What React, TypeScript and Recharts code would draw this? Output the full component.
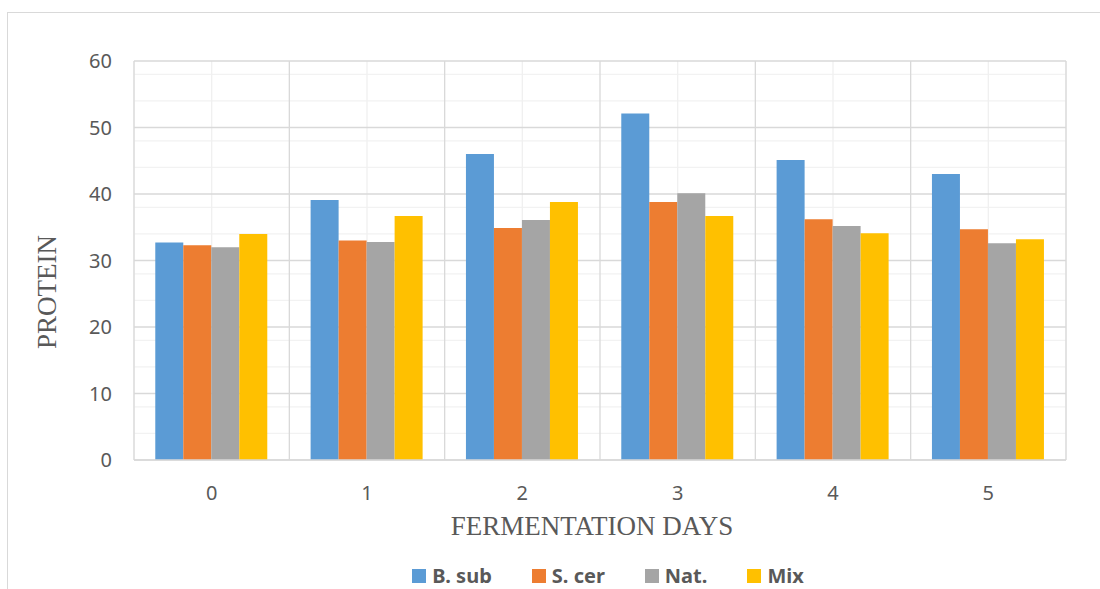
import React from 'react';
import { BarChart, Bar, XAxis, YAxis, CartesianGrid, Legend } from 'recharts';

const days = ['0', '1', '2', '3', '4', '5'];
const bSub = [32.7, 39.1, 46.0, 52.1, 45.1, 43.0];
const sCer = [32.3, 33.0, 34.9, 38.8, 36.2, 34.7];
const nat = [32.0, 32.8, 36.1, 40.1, 35.2, 32.6];
const mix = [34.0, 36.7, 38.8, 36.7, 34.1, 33.2];

const majorTicks = [0, 10, 20, 30, 40, 50, 60];
const minorTicks = [2, 4, 6, 8, 12, 14, 16, 18, 22, 24, 26, 28, 32, 34, 36, 38, 42, 44, 46, 48, 52, 54, 56, 58];

const seriesNames = ['B. sub', 'S. cer', 'Nat.', 'Mix'];
const seriesKeys = ['bSub', 'sCer', 'nat', 'mix'];
const seriesColors = ['#5B9BD5', '#ED7D31', '#A5A5A5', '#FFC000'];

const data = days.map((d, i) => ({
  day: d,
  bSub: bSub[i],
  sCer: sCer[i],
  nat: nat[i],
  mix: mix[i],
}));

const tickFont = { fontFamily: '"Noto Sans", sans-serif', fontSize: 20, fill: '#595959' };
const serif = '"Liberation Serif", "Times New Roman", serif';

// category boundary lines, derived from the chart's plot offset
const boundaryGenerator = (props: any) => {
  const off = props.offset;
  const n = days.length;
  const out: number[] = [];
  for (let i = 0; i <= n; i++) out.push(off.left + (off.width * i) / n);
  return out;
};

const renderLegend = () => (
  <div
    style={{
      display: 'flex',
      justifyContent: 'center',
      alignItems: 'center',
      height: 20,
      paddingLeft: 116,
      fontFamily: '"Noto Sans", sans-serif',
      fontWeight: 700,
      fontSize: 20,
      color: '#595959',
    }}
  >
    {seriesNames.map((n, i) => (
      <div key={n} style={{ display: 'flex', alignItems: 'center', marginRight: i < seriesNames.length - 1 ? 40 : 0 }}>
        <span style={{ display: 'inline-block', width: 14, height: 14, background: seriesColors[i], marginRight: 6 }} />
        <span style={{ lineHeight: '20px' }}>{n}</span>
      </div>
    ))}
  </div>
);

export default function App() {
  return (
    <div style={{ position: 'absolute', left: 0, top: 0, width: 1100, height: 589, background: '#fff' }}>
      <div
        style={{
          position: 'absolute',
          left: 7,
          top: 12,
          width: 1093,
          height: 577,
          borderTop: '1px solid #d9d9d9',
          borderLeft: '1px solid #d9d9d9',
        }}
      />
      <div style={{ position: 'absolute', left: 0, top: 0 }}>
        <BarChart
          width={1100}
          height={589}
          data={data}
          margin={{ top: 61, right: 34, left: 74, bottom: 79 }}
          barCategoryGap="13.7%"
          barGap={0}
        >
          <CartesianGrid vertical={false} horizontalValues={minorTicks} stroke="#f2f2f2" strokeWidth={1.3} />
          <CartesianGrid horizontal={false} stroke="#f0f0f0" strokeWidth={1.3} />
          <CartesianGrid vertical={false} horizontalValues={majorTicks} stroke="#d9d9d9" strokeWidth={1.3} />
          <CartesianGrid horizontal={false} verticalCoordinatesGenerator={boundaryGenerator} stroke="#d9d9d9" strokeWidth={1.3} />
          <XAxis
            dataKey="day"
            height={30}
            tickLine={false}
            axisLine={{ stroke: '#d9d9d9', strokeWidth: 1.3 }}
            tickSize={0}
            tickMargin={26}
            tick={tickFont}
            label={() => (
              <text x={592} y={526} textAnchor="middle" dominantBaseline="central" fontFamily={serif} fontSize={27} fill="#595959">
                FERMENTATION DAYS
              </text>
            )}
          />
          <YAxis
            width={60}
            domain={[0, 60]}
            ticks={majorTicks}
            tickLine={false}
            axisLine={false}
            tickSize={0}
            tickMargin={22}
            tick={tickFont}
            label={() => (
              <text
                x={47}
                y={292}
                transform="rotate(-90 47 292)"
                textAnchor="middle"
                dominantBaseline="central"
                fontFamily={serif}
                fontSize={27}
                fill="#595959"
              >
                PROTEIN
              </text>
            )}
          />
          <Legend content={renderLegend} wrapperStyle={{ top: 566, left: 0, width: 1100 }} />
          {seriesKeys.map((k, i) => (
            <Bar key={k} dataKey={k} name={seriesNames[i]} fill={seriesColors[i]} isAnimationActive={false} />
          ))}
        </BarChart>
      </div>
    </div>
  );
}
